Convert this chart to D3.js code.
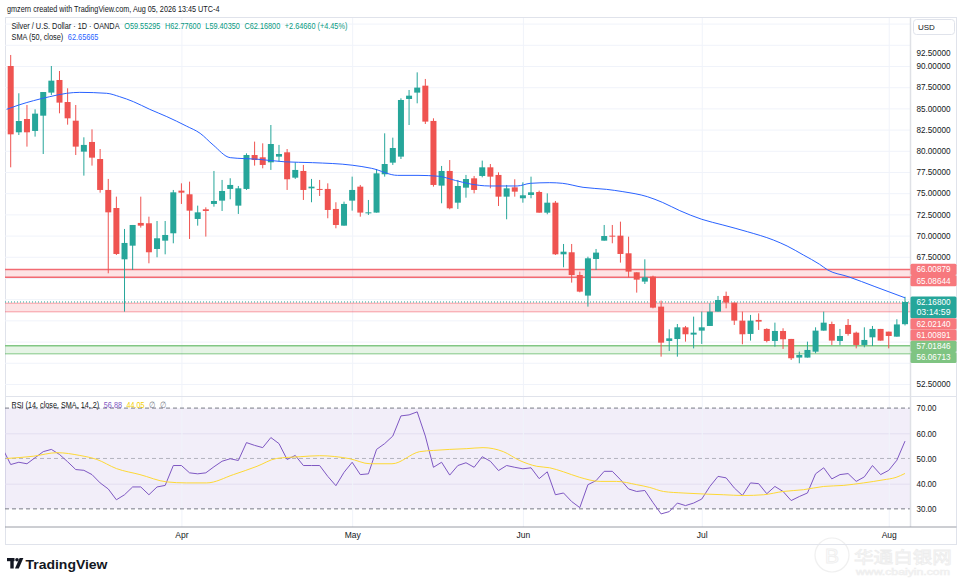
<!DOCTYPE html>
<html>
<head>
<meta charset="utf-8">
<script src="https://cdn.jsdelivr.net/npm/d3@7"></script>
<style>
  body { margin: 0; background: #fff; }
  svg { display: block; font-family: "Liberation Sans", Arial, sans-serif; }
</style>
</head>
<body>
<svg id="chart" width="964" height="582"></svg>
<script>
// daily candles, XAGUSD (OANDA)
const opens = [
  90.00, 82.18, 83.75, 82.34, 84.14, 86.86, 88.35, 85.75, 83.55, 79.90,
  81.04, 79.03, 75.38, 73.25, 67.20, 68.81, 71.49, 71.45, 68.42, 69.40,
  70.27, 75.30, 74.87, 71.96, 73.10, 73.73, 74.12, 75.50, 73.53, 75.50,
  79.50, 79.23, 78.64, 79.31, 79.82, 76.83, 77.62, 75.57, 75.50, 75.50,
  73.14, 71.17, 74.12, 75.77, 72.66, 72.71, 77.23, 78.60, 79.31, 86.11,
  86.86, 87.68, 83.52, 75.89, 77.62, 73.88, 75.65, 76.75, 77.03, 78.05,
  77.15, 74.59, 75.69, 74.40, 74.79, 75.14, 72.70, 73.88, 67.79, 68.03,
  65.35, 62.92, 67.24, 69.40, 69.99, 69.99, 67.91, 65.67, 64.57, 65.16,
  61.62, 57.57, 57.80, 59.18, 58.32, 58.79, 59.34, 61.03, 62.88, 62.09,
  59.97, 58.40, 60.05, 58.99, 57.57, 58.75, 57.81, 55.61, 55.61, 56.31,
  58.79, 59.57, 57.57, 59.46, 58.55, 57.10, 58.00, 58.99, 58.67, 58.08, 59.55
];
const highs = [
  91.30, 86.78, 85.40, 84.89, 86.93, 90.00, 89.41, 87.37, 85.40, 81.59,
  82.53, 80.21, 76.68, 74.59, 70.78, 71.25, 74.59, 72.23, 71.72, 71.72,
  75.38, 76.16, 76.36, 73.53, 73.33, 77.62, 76.56, 76.76, 75.85, 79.70,
  81.08, 80.88, 83.04, 80.69, 80.21, 78.64, 78.33, 76.68, 76.56, 76.16,
  73.93, 74.00, 76.95, 75.97, 74.20, 77.85, 82.06, 81.55, 86.19, 87.17,
  89.25, 88.47, 83.83, 78.21, 78.91, 76.56, 77.15, 77.03, 78.84, 78.44,
  77.46, 75.97, 76.64, 76.28, 76.95, 75.30, 74.98, 74.08, 69.01, 69.01,
  65.75, 67.51, 68.42, 71.25, 71.25, 71.64, 69.87, 65.67, 67.20, 65.27,
  62.33, 58.94, 59.57, 59.34, 60.44, 61.03, 62.01, 62.88, 63.39, 62.09,
  61.03, 60.64, 60.83, 59.07, 59.73, 59.07, 57.81, 56.31, 57.49, 59.18,
  61.03, 59.85, 58.99, 60.16, 58.67, 59.18, 59.34, 58.99, 58.67, 60.13, 62.78
];
const lows = [
  78.05, 81.86, 80.49, 81.67, 79.62, 86.58, 84.42, 83.08, 79.50, 77.07,
  78.25, 75.06, 65.55, 67.71, 61.03, 65.94, 70.94, 66.73, 67.44, 67.79,
  69.09, 73.73, 69.60, 71.17, 69.88, 73.41, 72.90, 74.28, 72.55, 75.38,
  78.25, 77.93, 77.74, 78.72, 75.38, 76.68, 74.20, 73.93, 74.67, 72.04,
  70.86, 71.17, 72.94, 72.23, 72.43, 72.71, 76.95, 78.33, 79.03, 83.04,
  85.60, 83.16, 75.77, 73.81, 73.10, 73.14, 74.47, 74.98, 76.87, 75.58,
  73.49, 71.92, 74.59, 73.88, 74.40, 72.70, 72.51, 67.71, 66.26, 64.45,
  63.31, 61.62, 65.94, 69.40, 69.09, 66.81, 65.08, 63.27, 64.29, 61.42,
  55.72, 56.39, 55.72, 57.49, 56.70, 57.22, 59.34, 61.03, 61.42, 59.46,
  57.18, 57.61, 58.87, 57.41, 56.90, 56.63, 55.33, 54.94, 55.61, 56.12,
  58.79, 57.10, 57.10, 58.20, 56.70, 56.82, 56.98, 57.61, 56.70, 58.08, 59.40
];
const closes = [
  81.94, 83.51, 82.18, 84.38, 86.93, 88.27, 85.68, 83.83, 80.49, 80.69,
  79.19, 75.38, 72.74, 67.83, 69.13, 71.25, 71.17, 68.03, 69.68, 70.07,
  75.10, 75.06, 72.94, 72.74, 72.90, 74.08, 75.26, 75.97, 75.57, 79.50,
  78.91, 78.33, 80.80, 79.62, 76.64, 77.74, 75.38, 75.77, 75.42, 73.02,
  71.25, 73.73, 75.38, 72.71, 72.74, 77.34, 78.44, 80.33, 85.99, 86.50,
  87.45, 83.44, 75.97, 77.62, 73.22, 75.85, 76.67, 75.38, 78.05, 76.95,
  74.59, 75.57, 75.18, 74.75, 75.10, 72.70, 73.88, 67.79, 68.10, 65.35,
  63.39, 67.32, 67.99, 69.95, 69.95, 67.83, 65.75, 64.80, 65.08, 61.50,
  57.37, 57.88, 59.18, 58.36, 58.55, 59.18, 61.03, 62.40, 62.09, 59.97,
  58.36, 59.97, 59.85, 57.57, 58.75, 57.77, 55.53, 55.92, 56.51, 58.79,
  59.73, 57.61, 58.16, 58.40, 57.10, 57.69, 58.99, 57.61, 58.16, 59.52, 62.17
];

// SMA(50) line, read as (bar position, value) points
const smaIdx = [-0.5, 1.0, 2.8, 4.8, 6.9, 8.5, 11.8, 13.4, 15.1, 17.1, 19.2, 21.6, 23.3, 24.9, 27.0,
  30.4, 33.7, 37.1, 42.0, 44.4, 47.6, 50.1, 52.6, 54.7, 56.5, 58.9, 62.3, 63.9, 66.3, 67.9,
  70.4, 73.3, 75.3, 78.3, 80.2, 82.3, 85.0, 87.6, 90.6, 93.8, 95.5, 97.5, 99.5, 100.5, 103.0, 106.3, 110];
const smaVal = [84.89, 85.40, 85.91, 86.38, 86.78, 86.89, 86.78, 86.38, 85.79, 84.89, 84.03, 82.92, 82.06, 80.69, 79.19,
  79.00, 78.70, 78.60, 78.30, 77.93, 77.10, 77.10, 77.00, 76.50, 76.09, 75.85, 75.85, 76.16, 76.24, 76.16,
  75.69, 75.45, 75.18, 74.59, 73.90, 72.94, 71.92, 71.25, 70.46, 69.48, 68.77, 67.71, 66.61, 65.94, 65.16, 63.98, 62.66];

// RSI(14), one value per bar, plus the bar before the first one
const rsiPrev = 54.0;
const rsiVals = [
  47.6, 48.5, 47.9, 50.3, 52.7, 53.6, 51.6, 48.7, 45.6, 45.3,
  43.6, 40.3, 37.9, 33.6, 35.6, 38.7, 38.7, 35.6, 38.7, 39.3,
  47.2, 47.2, 44.3, 43.9, 44.3, 46.7, 48.9, 49.9, 49.2, 56.3,
  55.2, 54.3, 58.3, 55.9, 49.6, 51.2, 47.2, 47.2, 47.2, 42.9,
  39.2, 44.5, 48.5, 43.6, 43.9, 53.6, 55.9, 58.9, 66.9, 67.3,
  68.5, 58.9, 46.5, 48.5, 43.4, 47.2, 48.3, 46.5, 50.7, 48.9,
  45.2, 47.2, 46.5, 45.9, 46.3, 42.0, 44.7, 35.6, 36.3, 32.9,
  30.5, 39.6, 41.2, 44.9, 44.9, 41.6, 37.9, 36.9, 37.3, 32.5,
  28.0, 28.9, 32.3, 31.3, 32.3, 33.9, 38.9, 42.9, 42.3, 38.3,
  35.3, 40.3, 40.0, 36.0, 38.9, 36.9, 33.3, 34.9, 36.3, 43.9,
  46.3, 41.9, 43.6, 44.0, 40.9, 42.7, 47.2, 43.6, 45.3, 49.3, 56.88
];
// RSI-based MA (yellow), read as points
const rsiMaIdx = [-0.5, 2.8, 5.7, 8.5, 10.6, 13, 15.9, 19.2, 21.6, 24.1, 27.4, 30.3, 32.7, 35.6, 38, 41.7,
  44.2, 46.9, 50.3, 52, 54, 56.1, 58.1, 60.6, 62.6, 64.7, 66.3, 68, 70, 72.5, 74.5, 77, 78.6, 80.3,
  82.7, 85.2, 87.7, 90.1, 92.6, 95, 97.5, 100, 102.4, 104.9, 107.3, 108.9, 110];
const rsiMaVal = [50.0, 50.9, 52.3, 51.2, 49.6, 46.0, 43.6, 40.7, 40.3, 40.3, 43.6, 46.9, 50.0, 50.7, 51.1, 49.9,
  47.9, 47.9, 52.7, 53.2, 53.6, 53.9, 54.3, 52.7, 49.2, 46.9, 46.3, 44.7, 42.5, 40.9, 40.9, 39.6, 38.5, 36.9,
  36.3, 35.9, 35.6, 35.3, 35.6, 36.9, 37.6, 38.9, 39.3, 40.3, 41.5, 42.5, 44.05];

// horizontal zones drawn on the chart
const zoneTops = [66.00879, 62.02140, 57.01846];
const zoneBots = [65.08644, 61.00891, 56.06713];
const zoneKinds = ['red', 'redLight', 'green'];

const lastPrice = 62.168;
const countdown = '03:14:59';

const monthIdx = [21, 42, 63, 85, 108];
const monthLabels = ['Apr', 'May', 'Jun', 'Jul', 'Aug'];
const priceTicks = [52.5, 55, 57.5, 60, 62.5, 65, 67.5, 70, 72.5, 75, 77.5, 80, 82.5, 85, 87.5, 90, 92.5];
const rsiTicks = [30, 40, 50, 60, 70];

// layout
const plotL = 5, plotR = 910.5;
const priceTop = 18, priceBot = 396;
const rsiTop = 397, rsiBot = 527;
const up = '#26a69a', down = '#ef5350';

const svg = d3.select('#chart');

const x = d3.scaleLinear().domain([0, 110]).range([10.7, 905]);
const y = d3.scaleLinear().domain([51.08, 95.66]).range([priceBot, priceTop]);
const yr = d3.scaleLinear().domain([22.8, 74.4]).range([rsiBot, rsiTop]);

const defs = svg.append('defs');
defs.append('clipPath').attr('id', 'cp').append('rect')
  .attr('x', plotL).attr('y', priceTop).attr('width', plotR - plotL).attr('height', priceBot - priceTop);
defs.append('clipPath').attr('id', 'cr').append('rect')
  .attr('x', plotL).attr('y', rsiTop).attr('width', plotR - plotL).attr('height', rsiBot - rsiTop);

// squeeze a text horizontally to a given width (scale transform, so its box is really that wide)
function squeeze(sel, x0, yb, w) {
  const nat = sel.node().getComputedTextLength();
  sel.attr('x', 0).attr('y', 0).attr('transform', `translate(${x0},${yb}) scale(${w / nat},1)`);
}

// faint watermark (drawn first, sits under everything)
const wm = svg.append('g').attr('opacity', 0.55);
wm.append('circle').attr('cx', 832).attr('cy', 555).attr('r', 17).attr('fill', 'none')
  .attr('stroke', '#e4e4e4').attr('stroke-width', 1.2);
wm.append('text').attr('x', 832).attr('y', 563).attr('text-anchor', 'middle').attr('font-size', 21)
  .attr('fill', 'none').attr('stroke', '#e4e4e4').attr('stroke-width', 1).text('B');
squeeze(wm.append('text').attr('font-size', 16)
  .attr('font-family', '"Noto Sans CJK SC", sans-serif')
  .attr('fill', '#fff').attr('stroke', '#e0e0e0').attr('stroke-width', 0.8).text('华通白银网'), 854, 563, 98);
squeeze(wm.append('text').attr('font-size', 8.5)
  .attr('fill', '#fff').attr('stroke', '#e2e2e2').attr('stroke-width', 0.6).text('www.cbaiyin.com'), 856, 575, 94);

// header
squeeze(svg.append('text').attr('font-size', 9).attr('fill', '#131722')
  .text('gmzern created with TradingView.com, Aug 05, 2026 13:45 UTC-4'), 7, 12, 213);

// frame
svg.append('rect').attr('x', 5.5).attr('y', 17.5).attr('width', 951).attr('height', 527)
  .attr('fill', 'none').attr('stroke', '#e0e3eb');

// price grid
const priceGrid = svg.append('g').attr('transform', `translate(${plotR},0)`)
  .call(d3.axisLeft(y).tickValues(d3.range(52.5, 96, 2.5)).tickSize(plotR - plotL).tickFormat(''));
priceGrid.select('.domain').remove();
priceGrid.selectAll('line').attr('stroke', '#f0f3fa');

// rsi background + grid
svg.append('rect').attr('x', plotL).attr('width', plotR - plotL)
  .attr('y', yr(70)).attr('height', yr(30) - yr(70)).attr('fill', 'rgba(126,87,194,0.1)');
const rsiGrid = svg.append('g').attr('transform', `translate(${plotR},0)`)
  .call(d3.axisLeft(yr).tickValues([40, 60]).tickSize(plotR - plotL).tickFormat(''));
rsiGrid.select('.domain').remove();
rsiGrid.selectAll('line').attr('stroke', '#e3def0');

// vertical month grid
const vGrid = svg.append('g').attr('transform', `translate(0,${rsiBot})`)
  .call(d3.axisBottom(x).tickValues(monthIdx).tickSize(-(rsiBot - priceTop)).tickFormat(''));
vGrid.select('.domain').remove();
vGrid.selectAll('line').attr('stroke', '#f0f3fa');

// rsi band lines
[[70, 1], [50, 0.5], [30, 1]].forEach(([v, op]) => {
  svg.append('line').attr('x1', plotL).attr('x2', plotR).attr('y1', yr(v)).attr('y2', yr(v))
    .attr('stroke', '#787b86').attr('stroke-opacity', op).attr('stroke-dasharray', '4 3');
});

// pane separator and right axis separator
svg.append('line').attr('x1', plotL).attr('x2', 956.5).attr('y1', 396.5).attr('y2', 396.5).attr('stroke', '#e0e3eb');
svg.append('line').attr('x1', plotR).attr('x2', plotR).attr('y1', priceTop).attr('y2', rsiBot)
  .attr('stroke', '#dfe1e6').attr('stroke-width', 1.5);
svg.append('line').attr('x1', plotL).attr('x2', 956.5).attr('y1', rsiBot).attr('y2', rsiBot).attr('stroke', '#9a9da6');

// zones
const pane = svg.append('g').attr('clip-path', 'url(#cp)');
zoneTops.forEach((t, i) => {
  const kind = zoneKinds[i];
  const fill = kind === 'green' ? 'rgba(76,175,80,0.14)' : 'rgba(242,54,69,0.14)';
  const edgeTop = kind === 'red' ? '#f26b73' : kind === 'green' ? '#81c784' : 'rgba(242,54,69,0.3)';
  const edgeBot = kind === 'red' ? '#f26b73' : kind === 'green' ? 'rgba(76,175,80,0.45)' : 'rgba(242,54,69,0.3)';
  pane.append('rect').attr('x', plotL).attr('width', plotR - plotL)
    .attr('y', y(t)).attr('height', y(zoneBots[i]) - y(t)).attr('fill', fill);
  pane.append('line').attr('x1', plotL).attr('x2', plotR).attr('y1', y(t)).attr('y2', y(t))
    .attr('stroke', edgeTop).attr('stroke-width', 1.5);
  pane.append('line').attr('x1', plotL).attr('x2', plotR).attr('y1', y(zoneBots[i])).attr('y2', y(zoneBots[i]))
    .attr('stroke', edgeBot).attr('stroke-width', 1.5);
});

// last price dotted line
pane.append('line').attr('x1', plotL).attr('x2', plotR).attr('y1', y(lastPrice)).attr('y2', y(lastPrice))
  .attr('stroke', up).attr('stroke-dasharray', '1 2');

// candles
const bars = d3.range(opens.length);
pane.append('g').selectAll('line').data(bars).join('line')
  .attr('x1', i => x(i)).attr('x2', i => x(i))
  .attr('y1', i => y(highs[i])).attr('y2', i => y(lows[i]))
  .attr('stroke', i => closes[i] >= opens[i] ? up : down);
pane.append('g').selectAll('rect').data(bars).join('rect')
  .attr('x', i => x(i) - 3).attr('width', 6)
  .attr('y', i => y(Math.max(opens[i], closes[i])))
  .attr('height', i => Math.max(1, Math.abs(y(opens[i]) - y(closes[i]))))
  .attr('fill', i => closes[i] >= opens[i] ? up : down);

// SMA
pane.append('path').datum(smaIdx)
  .attr('d', d3.line().x(d => x(d)).y((d, i) => y(smaVal[i])).curve(d3.curveMonotoneX))
  .attr('fill', 'none').attr('stroke', '#2962ff').attr('stroke-width', 1);

// RSI lines
const rsiPane = svg.append('g').attr('clip-path', 'url(#cr)');
const rsiAll = [rsiPrev].concat(rsiVals);
rsiPane.append('path').datum(rsiAll)
  .attr('d', d3.line().x((d, i) => x(i - 1)).y(d => yr(d)))
  .attr('fill', 'none').attr('stroke', '#7e57c2').attr('stroke-width', 1);
rsiPane.append('path').datum(rsiMaIdx)
  .attr('d', d3.line().x(d => x(d)).y((d, i) => yr(rsiMaVal[i])).curve(d3.curveMonotoneX))
  .attr('fill', 'none').attr('stroke', '#fdd835').attr('stroke-width', 1);

// price tags on the right axis, stacked so they do not overlap
const tags = [
  { v: zoneTops[0], lines: [d3.format('.5f')(zoneTops[0])], c: '#f7787d' },
  { v: zoneBots[0], lines: [d3.format('.5f')(zoneBots[0])], c: '#f7787d' },
  { v: lastPrice, lines: [d3.format('.5f')(lastPrice), countdown], c: up },
  { v: zoneTops[1], lines: [d3.format('.5f')(zoneTops[1])], c: '#f7787d' },
  { v: zoneBots[1], lines: [d3.format('.5f')(zoneBots[1])], c: '#f7787d' },
  { v: zoneTops[2], lines: [d3.format('.5f')(zoneTops[2])], c: '#7fc482' },
  { v: zoneBots[2], lines: [d3.format('.5f')(zoneBots[2])], c: '#7fc482' }
];
const lineH = 11.2;
tags.forEach(t => {
  t.h = t.lines.length > 1 ? t.lines.length * lineH - 0.5 : lineH;
  t.top = y(t.v) - lineH / 2;
});
tags.sort((a, b) => a.top - b.top);
let prevBot = -Infinity;
tags.forEach(t => {
  t.top = Math.max(t.top, prevBot);
  prevBot = t.top + t.h;
});

// right price axis labels (labels hidden behind a tag are dropped, as on the reference)
const covered = v => tags.some(t => y(v) > t.top - 2 && y(v) < t.top + t.h + 2);
const pAxis = svg.append('g').attr('transform', `translate(${plotR},0)`)
  .call(d3.axisRight(y).tickValues(priceTicks.filter(v => !covered(v)))
    .tickSize(0).tickPadding(6).tickFormat(d3.format('.5f')));
pAxis.select('.domain').remove();
pAxis.selectAll('text').attr('font-size', 8.5).attr('fill', '#131722').attr('font-family', null)
  .attr('textLength', 34).attr('lengthAdjust', 'spacingAndGlyphs');
pAxis.selectAll('.tick').filter(d => d === 92.5).select('text').attr('dy', '1.25em');

const rAxis = svg.append('g').attr('transform', `translate(${plotR},0)`)
  .call(d3.axisRight(yr).tickValues(rsiTicks).tickSize(0).tickPadding(6).tickFormat(d3.format('.2f')));
rAxis.select('.domain').remove();
rAxis.selectAll('text').attr('font-size', 8.5).attr('fill', '#131722').attr('font-family', null)
  .attr('textLength', 20).attr('lengthAdjust', 'spacingAndGlyphs');

// USD box
svg.append('rect').attr('x', 913.5).attr('y', 19.5).attr('width', 41).attr('height', 15).attr('rx', 3)
  .attr('fill', '#fff').attr('stroke', '#e0e3eb');
svg.append('text').attr('x', 918).attr('y', 30).attr('font-size', 8).attr('fill', '#131722').text('USD');

// time axis
const tAxis = svg.append('g').attr('transform', `translate(0,${rsiBot})`)
  .call(d3.axisBottom(x).tickValues(monthIdx).tickSize(0).tickPadding(5).tickFormat((d, i) => monthLabels[i]));
tAxis.select('.domain').remove();
tAxis.selectAll('text').attr('font-size', 8.5).attr('fill', '#131722').attr('font-family', null);

const tagG = svg.append('g');
tags.forEach(t => {
  tagG.append('rect').attr('x', plotR).attr('y', t.top).attr('width', 46).attr('height', t.h)
    .attr('rx', 1.5).attr('fill', t.c);
  t.lines.forEach((s, k) => {
    tagG.append('text').attr('x', 916.5).attr('y', t.top + lineH / 2 + k * (lineH - 1.5) + 3)
      .attr('font-size', 8.5).attr('fill', '#fff')
      .attr('textLength', 34).attr('lengthAdjust', 'spacingAndGlyphs').text(s);
  });
});

// legend rows: separate pieces laid out left to right, squeezed to the width seen on the reference
function legendRow(x0, yb, parts, totalW) {
  const gap = 4.5;
  const nodes = parts.map(p => svg.append('text').attr('font-size', 9).attr('fill', p[1]).text(p[0]));
  const widths = nodes.map(n => n.node().getComputedTextLength());
  const k = (totalW - gap * (parts.length - 1)) / d3.sum(widths);
  let cx = x0;
  nodes.forEach((n, i) => {
    n.attr('transform', `translate(${cx},${yb}) scale(${k},1)`);
    cx += widths[i] * k + gap;
  });
}
legendRow(11.5, 29, [
  ['Silver / U.S. Dollar · 1D · OANDA', '#131722'],
  ['O' + d3.format('.5f')(59.55295), '#089981'],
  ['H' + d3.format('.5f')(62.776), '#089981'],
  ['L' + d3.format('.5f')(59.4035), '#089981'],
  ['C' + d3.format('.5f')(lastPrice), '#089981'],
  ['+2.64660 (+4.45%)', '#089981']
], 336);
legendRow(11.5, 40, [
  ['SMA (50, close)', '#131722'],
  ['62.65665', '#2962ff']
], 87);
legendRow(11.5, 408, [
  ['RSI (14, close, SMA, 14, 2)', '#131722'],
  [d3.format('.2f')(rsiVals[rsiVals.length - 1]), '#7e57c2'],
  [d3.format('.2f')(rsiMaVal[rsiMaVal.length - 1]), '#f5d000'],
  ['∅', '#787b86'],
  ['∅', '#787b86']
], 155);

// TradingView logo
const logo = svg.append('g').attr('fill', '#131722');
logo.append('rect').attr('x', 7).attr('y', 558).attr('width', 7.5).attr('height', 3.2);
logo.append('rect').attr('x', 10.3).attr('y', 558).attr('width', 3.4).attr('height', 10.5);
logo.append('circle').attr('cx', 17).attr('cy', 559.8).attr('r', 1.8);
logo.append('path').attr('d', 'M19.6,558 L23.4,558 L18.8,568.5 L15,568.5 Z');
squeeze(svg.append('text').attr('font-size', 13).attr('font-weight', 'bold')
  .attr('fill', '#131722').text('TradingView'), 25.5, 568.5, 82);
</script>
</body>
</html>
